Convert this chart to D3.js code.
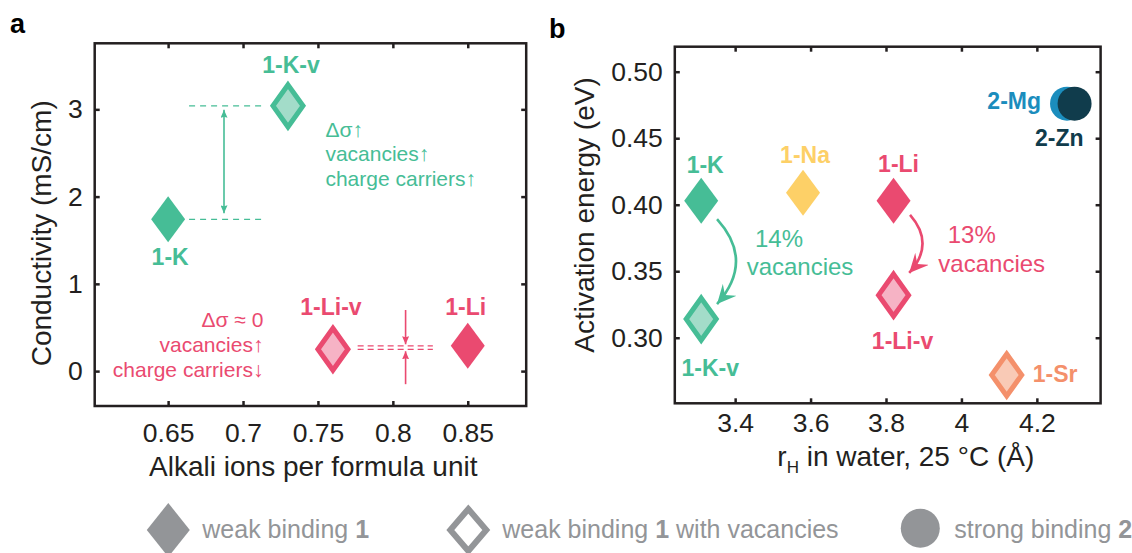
<!DOCTYPE html>
<html>
<head>
<meta charset="utf-8">
<script src="https://cdn.jsdelivr.net/npm/d3@7"></script>
<style>
  body { margin: 0; background: #fff; }
  svg text { font-family: 'Liberation Sans', Arial, sans-serif; }
</style>
</head>
<body>
<div class="chart"></div>
<script>
'use strict';

// panel a: conductivity against alkali content
var aNames = ['1-K', '1-K-v', '1-Li-v', '1-Li'];
var aAlkali = [0.65, 0.73, 0.76, 0.85];
var aConductivity = [1.74, 3.04, 0.25, 0.29];
var aXTicks = [0.65, 0.7, 0.75, 0.8, 0.85];
var aYTicks = [0, 1, 2, 3];

// panel b: activation energy against hydrated radius
var bNames = ['1-K', '1-Na', '1-Li', '1-K-v', '1-Li-v', '1-Sr', '2-Mg', '2-Zn'];
var bRadius = [3.31, 3.58, 3.82, 3.31, 3.82, 4.12, 4.28, 4.30];
var bEnergy = [0.403, 0.409, 0.403, 0.314, 0.332, 0.272, 0.476, 0.476];
var bXTicks = [3.4, 3.6, 3.8, 4, 4.2];
var bYTicks = [0.30, 0.35, 0.40, 0.45, 0.50];

var legendItems = [['weak binding ', '1', ''], ['weak binding ', '1', ' with vacancies'], ['strong binding ', '2', '']];

var ink = '#231f20', green = '#46bd96', red = '#ea4a70', grey = '#939598';
var look = {
  '1-K': {kind: 'filled', color: green},
  '1-K-v': {kind: 'hollow', color: green, fill: '#a3dcc9'},
  '1-Li': {kind: 'filled', color: red},
  '1-Li-v': {kind: 'hollow', color: red, fill: '#f6b3c5'},
  '1-Na': {kind: 'filled', color: '#fdd067'},
  '1-Sr': {kind: 'hollow', color: '#f4906b', fill: '#f9cab6'},
  '2-Mg': {kind: 'circle', color: '#1b8dbd'},
  '2-Zn': {kind: 'circle', color: '#103c4c'}
};
// label offset from the mark: dx, dy, anchor
var aLabelAt = {'1-K': [2, 46, 'middle'], '1-K-v': [3, -33, 'middle'], '1-Li-v': [-2, -34, 'middle'], '1-Li': [-2, -31, 'middle']};
var bLabelAt = {'1-K': [4, -28, 'middle'], '1-Na': [2, -30, 'middle'], '1-Li': [5, -29, 'middle'],
  '1-K-v': [9, 57, 'middle'], '1-Li-v': [9, 54, 'middle'], '1-Sr': [26, 7, 'start'],
  '2-Mg': [-26, 5, 'end'], '2-Zn': [9, 42, 'end']};

function diamond(hw, hh) {
  return 'M0,' + (-hh) + 'L' + hw + ',0L0,' + hh + 'L' + (-hw) + ',0Z';
}

var svg = d3.select('.chart').append('svg')
  .attr('width', 1132)
  .attr('height', 553);

var defs = svg.append('defs');
function marker(id, color, len, wid, notch) {
  defs.append('marker')
    .attr('id', id)
    .attr('markerUnits', 'userSpaceOnUse')
    .attr('viewBox', [-len, -wid / 2, len, wid].join(' '))
    .attr('refX', 0).attr('refY', 0)
    .attr('markerWidth', len).attr('markerHeight', wid)
    .attr('orient', 'auto-start-reverse')
    .append('path')
    .attr('d', 'M0,0L' + (-len) + ',' + (-wid / 2) + 'L' + (-len + notch) + ',0L' + (-len) + ',' + (wid / 2) + 'Z')
    .attr('fill', color);
}
marker('gSmall', green, 8, 7, 1);
marker('rSmall', red, 8, 7, 1);
marker('gBig', green, 19, 18, 7);
marker('rBig', red, 19, 18, 7);

function frame(g, x, y, w, h, xTicks, yTicks, xFmt, yFmt, xPad) {
  g.append('g')
    .attr('transform', 'translate(0,' + h + ')')
    .call(d3.axisBottom(x).tickValues(xTicks).tickFormat(xFmt).tickSize(-5).tickPadding(xPad));
  g.append('g')
    .call(d3.axisLeft(y).tickValues(yTicks).tickFormat(yFmt).tickSize(-5).tickPadding(12));
  g.append('g')
    .call(d3.axisTop(x).tickValues(xTicks).tickFormat('').tickSize(-5));
  g.append('g')
    .attr('transform', 'translate(' + w + ',0)')
    .call(d3.axisRight(y).tickValues(yTicks).tickFormat('').tickSize(-5));
  g.selectAll('.domain').remove();
  g.selectAll('.tick line').attr('stroke', ink).attr('stroke-width', 2.5);
  g.selectAll('.tick text').attr('fill', ink).attr('font-size', 26.5)
    .attr('font-family', "'Liberation Sans', Arial, sans-serif");
  g.append('rect')
    .attr('width', w).attr('height', h)
    .attr('fill', 'none').attr('stroke', ink).attr('stroke-width', 2.5);
}

function drawMarks(g, data, x, y, labelAt) {
  var m = g.selectAll('.mark').data(data).enter().append('g')
    .attr('class', 'mark')
    .attr('transform', function(d) { return 'translate(' + x(d.x) + ',' + y(d.y) + ')'; });
  m.filter(function(d) { return look[d.name].kind === 'filled'; })
    .append('path').attr('d', diamond(17, 23))
    .attr('fill', function(d) { return look[d.name].color; });
  m.filter(function(d) { return look[d.name].kind === 'hollow'; })
    .append('path').attr('d', diamond(15, 21))
    .attr('fill', function(d) { return look[d.name].fill; })
    .attr('stroke', function(d) { return look[d.name].color; })
    .attr('stroke-width', 5);
  m.filter(function(d) { return look[d.name].kind === 'circle'; })
    .append('circle').attr('r', 17)
    .attr('fill', function(d) { return look[d.name].color; });
  m.append('text')
    .attr('x', function(d) { return labelAt[d.name][0]; })
    .attr('y', function(d) { return labelAt[d.name][1]; })
    .attr('text-anchor', function(d) { return labelAt[d.name][2]; })
    .attr('font-size', 23).attr('font-weight', 'bold')
    .attr('fill', function(d) { return look[d.name].color; })
    .text(function(d) { return d.name; });
}

function textLines(g, lines, x0, y0, gap, anchor, color, size) {
  var t = g.append('text')
    .attr('text-anchor', anchor)
    .attr('font-size', size)
    .attr('fill', color);
  lines.forEach(function(s, i) {
    t.append('tspan').attr('x', x0).attr('y', y0 + i * gap).text(s);
  });
}

// ---- panel a ----
var aW = 431.5, aH = 362.7;
var ga = svg.append('g').attr('transform', 'translate(94.7,43.3)');
var xa = d3.scaleLinear().domain([0.601, 0.889]).range([0, aW]);
var ya = d3.scaleLinear().domain([-0.40, 3.757]).range([aH, 0]);

var aData = aNames.map(function(n, i) { return {name: n, x: aAlkali[i], y: aConductivity[i]}; });

// green step: dashed guides and double arrow
[aConductivity[1], aConductivity[0]].forEach(function(v) {
  ga.append('line')
    .attr('x1', xa(0.664)).attr('x2', xa(0.714))
    .attr('y1', ya(v)).attr('y2', ya(v))
    .attr('stroke', green).attr('stroke-width', 1.3).attr('stroke-dasharray', '6,5');
});
ga.append('line')
  .attr('x1', xa(0.6873)).attr('x2', xa(0.6873))
  .attr('y1', ya(aConductivity[1]) + 4).attr('y2', ya(aConductivity[0]) - 6)
  .attr('stroke', green).attr('stroke-width', 1.6)
  .attr('marker-start', 'url(#gSmall)').attr('marker-end', 'url(#gSmall)');

// red step: double dashed guides and pinching arrows
[aConductivity[3], aConductivity[2]].forEach(function(v) {
  ga.append('line')
    .attr('x1', xa(0.7765)).attr('x2', xa(0.8267))
    .attr('y1', ya(v)).attr('y2', ya(v))
    .attr('stroke', red).attr('stroke-width', 1.3).attr('stroke-dasharray', '6,4');
});
ga.append('line')
  .attr('x1', xa(0.8085)).attr('x2', xa(0.8085))
  .attr('y1', ya(0.70)).attr('y2', ya(aConductivity[3]) - 1.5)
  .attr('stroke', red).attr('stroke-width', 1.6).attr('marker-end', 'url(#rSmall)');
ga.append('line')
  .attr('x1', xa(0.8085)).attr('x2', xa(0.8085))
  .attr('y1', ya(-0.15)).attr('y2', ya(aConductivity[2]) + 2)
  .attr('stroke', red).attr('stroke-width', 1.6).attr('marker-end', 'url(#rSmall)');

textLines(ga, ['Δσ↑', 'vacancies↑', 'charge carriers↑'], xa(0.755), ya(2.687), 24.5, 'start', green, 21);
textLines(ga, ['Δσ ≈ 0', 'vacancies↑', 'charge carriers↓'], xa(0.7136), ya(0.502), 24.7, 'end', red, 21);

frame(ga, xa, ya, aW, aH, aXTicks, aYTicks, d3.format('~g'), d3.format('d'), 17);
drawMarks(ga, aData, xa, ya, aLabelAt);

ga.append('text')
  .attr('x', 218.6).attr('y', 433.2)
  .attr('text-anchor', 'middle').attr('font-size', 28).attr('fill', ink)
  .text('Alkali ions per formula unit');
ga.append('text')
  .attr('transform', 'translate(-44,190) rotate(-90)')
  .attr('text-anchor', 'middle').attr('font-size', 28).attr('fill', ink)
  .text('Conductivity (mS/cm)');

// ---- panel b ----
var bW = 425.8, bH = 356.6;
var gb = svg.append('g').attr('transform', 'translate(674.8,46.7)');
var xb = d3.scaleLinear().domain([3.24, 4.369]).range([0, bW]);
var yb = d3.scaleLinear().domain([0.2507, 0.5188]).range([bH, 0]);

var bData = bNames.map(function(n, i) { return {name: n, x: bRadius[i], y: bEnergy[i]}; });

function curvedArrow(g, p0, c, p1, color, id) {
  var p = d3.path();
  p.moveTo(xb(p0[0]), yb(p0[1]));
  p.quadraticCurveTo(xb(c[0]), yb(c[1]), xb(p1[0]), yb(p1[1]));
  g.append('path')
    .attr('d', p.toString())
    .attr('fill', 'none').attr('stroke', color).attr('stroke-width', 2.6)
    .attr('marker-end', 'url(#' + id + ')');
}
curvedArrow(gb, [3.352, 0.3892], [3.4525, 0.3577], [3.352, 0.3253], green, 'gBig');
curvedArrow(gb, [3.8637, 0.3923], [3.931, 0.3705], [3.8615, 0.3487], red, 'rBig');

textLines(gb, ['14%'], xb(3.4527), yb(0.3684), 0, 'start', green, 24);
textLines(gb, ['vacancies'], xb(3.4305), yb(0.3471), 0, 'start', green, 24);
textLines(gb, ['13%'], xb(3.9637), yb(0.3715), 0, 'start', red, 24);
textLines(gb, ['vacancies'], xb(3.9388), yb(0.3497), 0, 'start', red, 24);

frame(gb, xb, yb, bW, bH, bXTicks, bYTicks, d3.format('~g'), d3.format('.2f'), 10);
drawMarks(gb, bData, xb, yb, bLabelAt);

var xl = gb.append('text')
  .attr('x', 231).attr('y', 419.3)
  .attr('text-anchor', 'middle').attr('font-size', 28).attr('fill', ink);
xl.append('tspan').text('r');
xl.append('tspan').attr('font-size', 17).attr('dy', 7).text('H');
xl.append('tspan').attr('dy', -7).text(' in water, 25 °C (Å)');
gb.append('text')
  .attr('transform', 'translate(-81,168.3) rotate(-90)')
  .attr('text-anchor', 'middle').attr('font-size', 28).attr('fill', ink)
  .text('Activation energy (eV)');

// panel letters
svg.append('text').attr('x', 10).attr('y', 33).attr('font-size', 27).attr('font-weight', 'bold').attr('fill', '#000').text('a');
svg.append('text').attr('x', 549).attr('y', 38).attr('font-size', 27).attr('font-weight', 'bold').attr('fill', '#000').text('b');

// ---- legend ----
var legendX = [168.3, 468.3, 920.3];
var lg = svg.append('g').attr('transform', 'translate(0,530)');
lg.append('path').attr('transform', 'translate(' + legendX[0] + ',0)')
  .attr('d', diamond(21.5, 27)).attr('fill', grey);
lg.append('path').attr('transform', 'translate(' + legendX[1] + ',0)')
  .attr('d', diamond(18, 21)).attr('fill', '#fff').attr('stroke', grey).attr('stroke-width', 6);
lg.append('circle').attr('cx', legendX[2]).attr('cy', -1.7).attr('r', 19.5).attr('fill', grey);
legendItems.forEach(function(parts, i) {
  var t = lg.append('text')
    .attr('x', legendX[i] + 34).attr('y', 8.3)
    .attr('font-size', 25).attr('fill', grey);
  t.append('tspan').text(parts[0]);
  t.append('tspan').attr('font-weight', 'bold').text(parts[1]);
  if (parts[2]) t.append('tspan').text(parts[2]);
});
</script>
</body>
</html>
